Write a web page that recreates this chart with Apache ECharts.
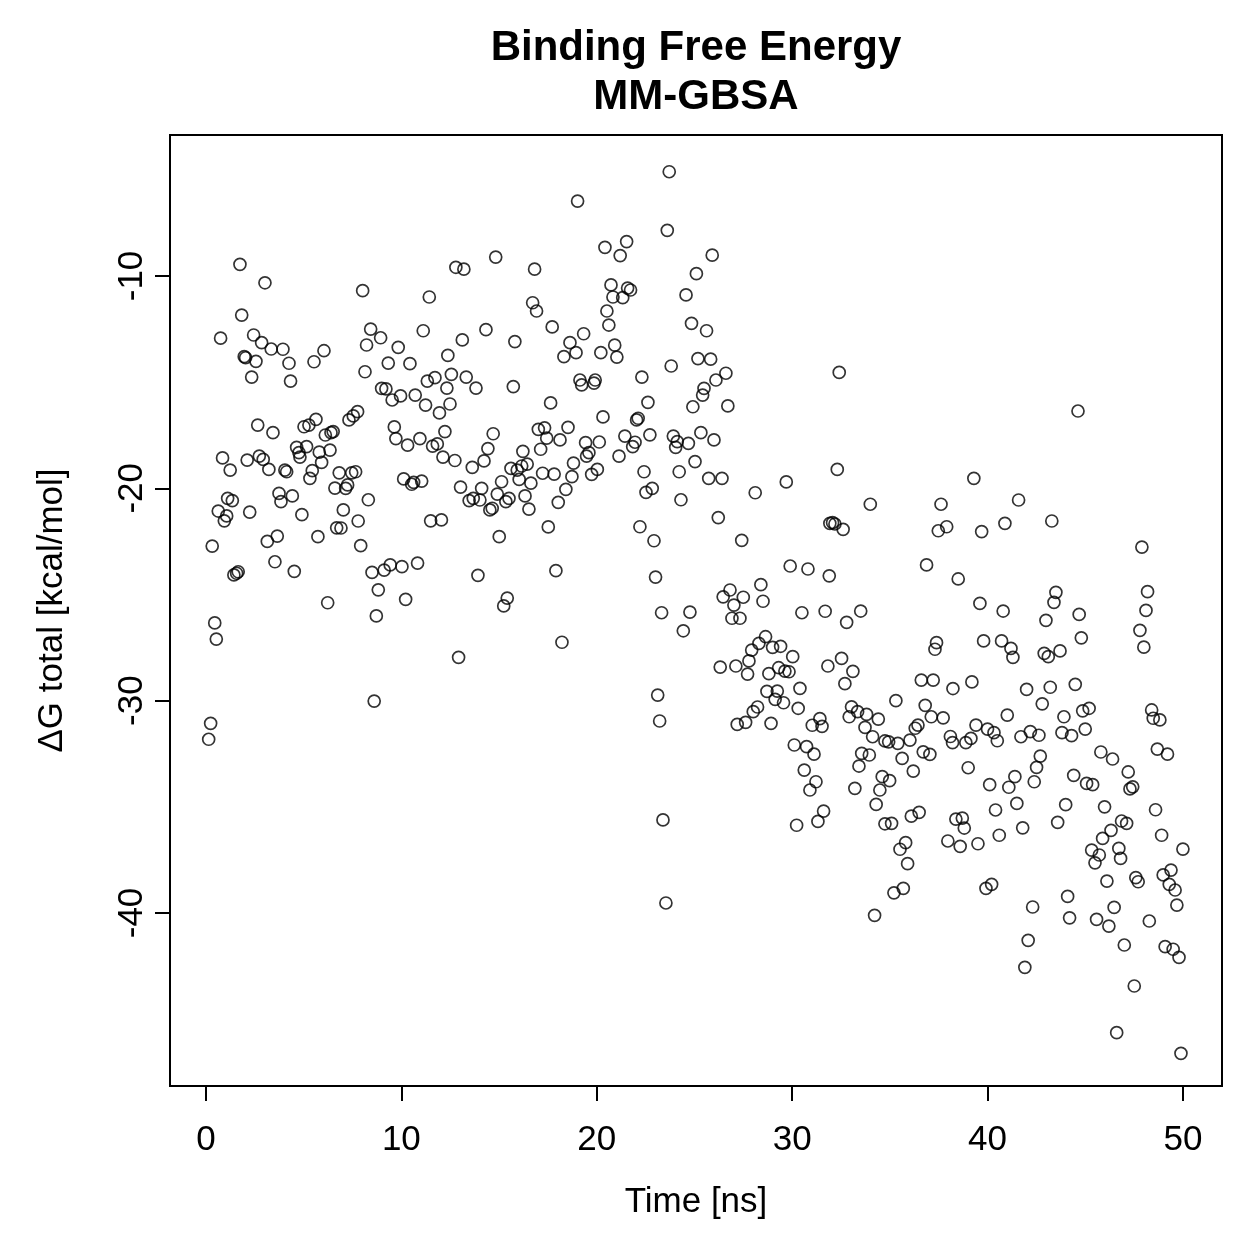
<!DOCTYPE html>
<html>
<head>
<meta charset="utf-8">
<script src="https://cdn.jsdelivr.net/npm/echarts@6/dist/echarts.min.js"></script>
<style>
  html, body { margin: 0; padding: 0; background: #fff; }
  #chart { width: 1259px; height: 1259px; }
</style>
</head>
<body>
<div id="chart"></div>
<script>
// values, one entry per frame
const timeNs = [
  1.74, 3.02, 8.02, 11.43, 1.83, 0.75, 2.44, 2.85, 3.34, 3.94,
  1.96, 2.03, 2.56, 4.25, 2.34, 4.33, 5.53, 6.04, 8.43, 8.94,
  8.22, 9.84, 9.33, 10.44, 11.12, 8.14, 8.99, 9.21, 9.53, 9.96,
  10.71, 11.24, 11.33, 11.72, 12.38, 12.56, 12.33, 12.49, 11.95, 12.23,
  2.65, 3.43, 5.02, 5.27, 5.63, 7.32, 7.54, 7.76, 6.11, 6.40,
  6.51, 9.64, 9.72, 10.32, 10.95, 11.60, 11.84, 0.85, 2.11, 2.73,
  2.93, 4.64, 4.76, 4.81, 5.15, 5.80, 6.35, 12.13, 1.24, 3.22,
  4.04, 4.13, 5.44, 5.32, 5.92, 6.82, 7.46, 7.66, 6.60, 7.15,
  7.25, 8.31, 7.03, 7.79, 6.69, 6.91, 7.92, 5.73, 4.91, 4.42,
  3.74, 3.84, 1.11, 1.35, 0.63, 1.06, 0.94, 2.24, 0.32, 3.14,
  3.65, 3.53, 4.52, 1.43, 1.57, 1.65, 6.23, 8.50, 9.12, 9.43,
  10.03, 10.83, 8.82, 10.22, 8.72, 10.12, 10.53, 10.63, 11.04, 11.50,
  12.05, 0.45, 0.53, 8.61, 0.24, 0.14, 23.71, 19.02, 23.61, 21.53,
  20.42, 21.20, 14.83, 12.79, 13.20, 16.82, 25.10, 20.73, 21.58, 21.73,
  20.83, 21.33, 24.57, 16.72, 16.92, 20.52, 20.62, 24.85, 14.33, 13.12,
  15.81, 17.72, 19.33, 18.63, 18.94, 18.32, 20.21, 20.92, 21.03, 23.81,
  25.18, 13.32, 13.82, 15.73, 17.64, 19.14, 19.23, 19.86, 19.92, 22.31,
  22.62, 20.32, 22.04, 22.12, 24.92, 14.70, 14.43, 17.01, 17.33, 17.44,
  17.13, 18.12, 18.53, 16.22, 19.43, 20.13, 19.60, 19.48, 21.44, 21.96,
  21.84, 22.72, 23.92, 24.12, 24.04, 24.69, 21.14, 18.81, 14.23, 12.74,
  25.91, 25.62, 25.83, 26.61, 26.10, 25.49, 25.42, 26.71, 25.33, 26.00,
  25.03, 32.41, 13.63, 13.03, 14.11, 13.47, 13.68, 14.02, 15.13, 14.91,
  14.53, 14.65, 15.35, 15.51, 15.61, 15.93, 16.16, 16.44, 16.03, 16.63,
  16.33, 16.53, 17.23, 17.82, 18.73, 18.42, 18.03, 19.74, 20.03, 22.42,
  22.52, 22.84, 24.22, 24.31, 15.01, 17.52, 22.21, 22.93, 13.92, 17.91,
  23.01, 15.42, 15.24, 23.32, 24.77, 24.43, 18.22, 12.93, 23.12, 23.22,
  25.73, 26.41, 28.11, 29.70, 32.31, 26.22, 27.42, 31.93, 32.07, 32.19,
  32.61, 34.00, 37.62, 37.48, 37.91, 29.90, 30.81, 31.90, 36.88, 28.40,
  26.82, 26.47, 27.50, 27.02, 28.51, 26.92, 27.33, 30.50, 31.69, 33.51,
  32.79, 28.64, 28.30, 27.93, 29.00, 29.41, 30.03, 27.79, 27.12, 26.32,
  27.72, 28.81, 29.31, 29.63, 29.84, 31.83, 32.53, 33.11, 32.70, 30.40,
  28.71, 29.24, 29.13, 29.56, 28.23, 30.31, 28.01, 27.19, 27.62, 28.92,
  31.42, 31.03, 31.53, 30.11, 30.74, 31.12, 37.39, 37.31, 36.61, 37.22,
  35.31, 33.04, 33.35, 32.92, 33.81, 34.41, 33.73, 34.12, 34.75, 34.94,
  35.41, 36.03, 36.30, 36.44, 36.81, 37.12, 37.73, 33.56, 33.95, 35.63,
  36.71, 37.05, 38.23, 38.10, 30.62, 31.22, 30.91, 30.23, 31.61, 31.32,
  33.42, 33.21, 34.61, 34.99, 34.49, 34.30, 36.20, 34.75, 35.09, 36.10,
  36.50, 35.81, 35.52, 35.91, 35.69, 35.21, 34.22, 37.97, 39.30, 41.59,
  43.29, 39.70, 40.89, 47.90, 38.50, 39.61, 40.80, 43.50, 43.40, 42.99,
  44.69, 44.80, 48.19, 48.11, 47.80, 48.00, 39.80, 40.72, 41.20, 41.30,
  42.90, 43.11, 43.71, 39.20, 42.00, 43.21, 44.49, 42.80, 41.01, 43.91,
  44.87, 45.20, 48.40, 48.48, 48.82, 39.41, 40.00, 40.33, 40.50, 38.21,
  38.89, 39.15, 41.71, 42.19, 42.63, 43.81, 44.30, 45.00, 45.80, 46.40,
  42.70, 48.69, 49.21, 42.51, 42.39, 39.01, 40.11, 41.40, 41.09, 44.41,
  45.07, 45.38, 47.20, 47.43, 47.29, 41.50, 40.41, 44.00, 45.99, 48.60,
  38.38, 38.71, 38.81, 43.59, 41.80, 40.60, 38.60, 39.51, 46.86, 47.12,
  46.32, 45.89, 48.91, 50.00, 45.33, 45.72, 45.50, 46.72, 46.81, 46.11,
  47.59, 47.71, 48.99, 49.39, 49.30, 49.60, 49.69, 39.92, 40.21, 44.10,
  42.31, 46.48, 44.20, 45.58, 46.21, 48.28, 42.08, 47.00, 49.09, 49.50,
  49.80, 41.91, 47.51, 46.61, 49.90, 23.39, 23.54, 44.63
];

const deltaG = [
  -9.45, -10.32, -10.69, -10.99, -11.84, -12.93, -12.78, -13.14, -13.44, -13.45,
  -13.80, -13.85, -14.02, -14.11, -14.76, -14.95, -14.04, -13.52, -12.50, -12.91,
  -13.25, -13.36, -14.10, -14.13, -12.58, -14.51, -15.29, -15.32, -15.84, -15.65,
  -15.61, -16.08, -14.95, -14.79, -13.74, -14.63, -15.28, -16.03, -16.45, -17.33,
  -17.02, -17.38, -17.10, -17.02, -16.75, -16.78, -16.59, -16.39, -17.49, -17.38,
  -17.33, -17.11, -17.66, -17.97, -17.66, -18.01, -17.91, -18.57, -18.67, -18.48,
  -18.64, -18.07, -18.32, -18.53, -18.04, -18.30, -18.20, -18.53, -19.14, -19.11,
  -19.14, -19.22, -19.17, -19.53, -18.78, -19.27, -19.27, -19.22, -19.99, -20.00,
  -19.84, -20.54, -21.02, -21.54, -21.86, -21.87, -22.70, -22.28, -21.24, -20.36,
  -20.24, -20.63, -20.47, -20.58, -21.07, -21.30, -21.53, -21.12, -22.72, -22.50,
  -22.25, -23.46, -23.91, -24.08, -24.00, -23.93, -25.39, -23.96, -23.85, -23.61,
  -23.69, -23.52, -24.78, -25.23, -26.01, -19.56, -19.81, -19.72, -19.66, -21.53,
  -21.49, -26.34, -27.10, -30.02, -31.07, -31.82, -5.09, -6.47, -7.85, -8.38,
  -8.65, -9.04, -9.11, -9.59, -9.68, -9.68, -9.89, -10.42, -10.57, -10.66,
  -10.99, -11.02, -10.89, -11.26, -11.65, -11.65, -12.31, -12.23, -12.53, -13.01,
  -13.09, -12.40, -12.72, -13.14, -13.61, -13.80, -13.61, -13.26, -13.82, -14.24,
  -13.89, -14.76, -15.28, -15.21, -15.98, -14.90, -15.13, -15.05, -14.90, -14.76,
  -15.95, -16.64, -16.78, -16.70, -16.16, -17.43, -18.13, -17.22, -17.15, -17.64,
  -18.16, -17.72, -17.13, -18.26, -17.85, -17.82, -18.32, -18.48, -17.54, -17.83,
  -18.04, -17.48, -17.54, -17.80, -18.07, -17.88, -18.48, -18.81, -18.71, -18.69,
  -9.02, -12.58, -13.92, -14.58, -14.90, -15.29, -15.61, -16.12, -17.38, -17.72,
  -18.74, -14.54, -19.01, -19.94, -20.00, -20.58, -20.47, -20.55, -19.69, -20.27,
  -21.02, -20.94, -20.63, -20.47, -19.06, -19.14, -18.95, -18.86, -19.58, -19.76,
  -20.36, -20.98, -19.29, -19.33, -19.45, -20.05, -20.66, -19.34, -19.11, -19.22,
  -20.19, -20.00, -19.22, -20.54, -22.28, -21.82, -21.81, -22.47, -24.10, -23.88,
  -24.18, -25.17, -25.54, -25.86, -25.83, -26.71, -27.25, -27.96, -29.74, -30.96,
  -19.53, -19.53, -20.21, -19.70, -19.11, -21.38, -22.45, -21.65, -21.62, -21.68,
  -21.93, -20.75, -20.75, -22.00, -21.81, -23.66, -23.80, -24.12, -23.61, -24.54,
  -24.79, -25.11, -25.13, -25.50, -25.32, -26.12, -26.12, -25.86, -25.79, -25.78,
  -26.31, -26.99, -27.30, -27.62, -27.49, -27.44, -27.93, -28.13, -28.37, -28.42,
  -28.75, -28.73, -28.45, -28.61, -28.64, -28.37, -28.01, -28.62, -29.20, -29.42,
  -29.56, -29.55, -29.94, -30.10, -30.30, -30.36, -30.52, -31.12, -31.02, -31.07,
  -30.85, -31.16, -31.21, -32.09, -32.17, -32.52, -27.27, -27.58, -29.03, -29.03,
  -30.00, -30.29, -30.52, -30.76, -30.65, -30.87, -31.26, -31.70, -31.90, -31.94,
  -32.01, -31.86, -31.30, -31.15, -30.22, -30.76, -30.81, -32.48, -32.56, -32.72,
  -32.41, -32.53, -29.43, -31.69, -33.27, -33.82, -34.21, -35.87, -35.20, -35.69,
  -33.08, -34.13, -33.58, -33.77, -34.21, -34.89, -33.32, -35.80, -35.78, -35.44,
  -35.26, -36.69, -37.00, -37.68, -38.84, -39.05, -40.11, -36.61, -19.53, -20.55,
  -21.54, -22.04, -21.65, -22.77, -24.27, -25.42, -25.78, -24.90, -25.37, -26.22,
  -25.94, -27.04, -24.87, -25.75, -26.69, -27.48, -27.19, -27.19, -27.54, -27.96,
  -27.77, -27.93, -27.66, -29.12, -29.47, -29.37, -29.23, -30.15, -30.68, -30.76,
  -30.48, -30.36, -30.44, -30.83, -30.91, -31.15, -31.34, -31.51, -31.89, -31.98,
  -31.98, -31.78, -31.70, -31.46, -31.63, -31.51, -31.65, -31.34, -32.42, -32.75,
  -32.61, -32.28, -32.52, -33.14, -33.82, -33.16, -33.96, -33.58, -34.08, -33.52,
  -33.90, -33.96, -33.36, -34.06, -34.16, -34.84, -35.15, -34.90, -35.00, -35.14,
  -35.58, -35.53, -36.00, -35.73, -35.99, -36.34, -36.86, -36.74, -35.67, -35.78,
  -36.11, -36.49, -36.34, -36.99, -37.04, -37.27, -37.64, -36.96, -37.43, -38.50,
  -38.34, -38.53, -38.21, -37.98, -38.65, -38.92, -39.63, -38.84, -38.65, -39.22,
  -39.72, -39.74, -40.23, -40.30, -40.62, -40.38, -41.29, -41.51, -41.59, -41.71,
  -42.09, -42.56, -43.44, -45.64, -46.61, -35.62, -39.53, -16.36
];

const xTicks = [0, 10, 20, 30, 40, 50];
const yTicks = [-40, -30, -20, -10];

const FONT = '"Liberation Sans", Arial, Helvetica, sans-serif';

const getOptions = () => ({
  animation: false,
  backgroundColor: '#ffffff',
  textStyle: { fontFamily: FONT, color: '#000' },
  title: {
    text: 'Binding Free Energy\nMM-GBSA',
    left: 696,
    top: 24,
    textAlign: 'center',
    padding: 0,
    textStyle: { fontFamily: FONT, fontSize: 42, fontWeight: 'bold', lineHeight: 49, color: '#000' }
  },
  grid: {
    left: 170,
    top: 135,
    width: 1052,
    height: 951,
    show: true,
    borderColor: '#000',
    borderWidth: 2,
    backgroundColor: 'transparent'
  },
  xAxis: {
    type: 'value',
    min: -1.84,
    max: 52.0,
    name: 'Time [ns]',
    nameLocation: 'middle',
    nameGap: 99,
    nameTextStyle: { fontFamily: FONT, fontSize: 35, color: '#000' },
    axisLine: { show: false, onZero: false },
    splitLine: { show: false },
    axisTick: { show: true, inside: false, length: 15, lineStyle: { color: '#000', width: 2 }, customValues: xTicks },
    axisLabel: { customValues: xTicks, margin: 37, fontFamily: FONT, fontSize: 35, color: '#000' }
  },
  yAxis: {
    type: 'value',
    min: -48.15,
    max: -3.36,
    name: 'ΔG total [kcal/mol]',
    nameLocation: 'middle',
    nameGap: 100,
    nameTextStyle: { fontFamily: FONT, fontSize: 35, color: '#000' },
    axisLine: { show: false, onZero: false },
    splitLine: { show: false },
    axisTick: { show: true, inside: false, length: 15, lineStyle: { color: '#000', width: 2 }, customValues: yTicks },
    axisLabel: { customValues: yTicks, rotate: 90, margin: 20, fontFamily: FONT, fontSize: 35, color: '#000' }
  },
  series: [
    {
      type: 'scatter',
      data: timeNs.map((t, i) => [t, deltaG[i]]),
      symbol: 'circle',
      symbolSize: 12,
      silent: true,
      itemStyle: { color: 'transparent', borderColor: '#000', borderWidth: 1.7 }
    }
  ]
});

const chart = echarts.init(document.getElementById('chart'), null, { renderer: 'canvas' });
chart.setOption(getOptions());
</script>
</body>
</html>
